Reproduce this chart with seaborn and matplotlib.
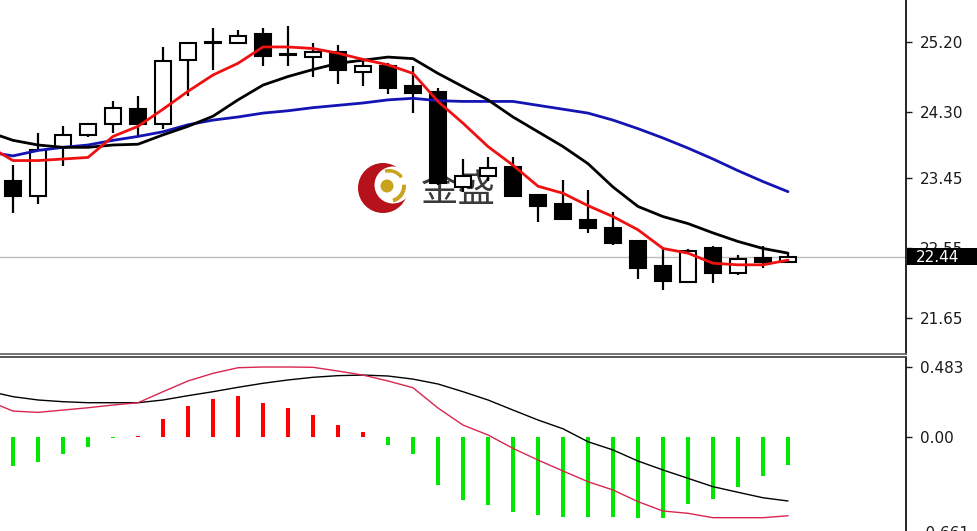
import numpy as np
import matplotlib
matplotlib.use("Agg")
import matplotlib.pyplot as plt
import seaborn as sns
from matplotlib.patches import Rectangle, Circle, Wedge

# ---------------- data ----------------
opens  = [23.42, 23.22, 23.85, 24.01, 24.15, 24.34, 24.15, 24.97, 25.19, 25.195, 25.31, 25.04,
          25.01, 25.07, 24.82, 24.90, 24.64, 24.56, 23.34, 23.48, 23.60, 23.24, 23.12, 22.92,
          22.81, 22.646, 22.325, 22.12, 22.55, 22.23, 22.43, 22.37]
highs  = [23.62, 24.03, 24.12, 24.16, 24.44, 24.51, 25.14, 25.21, 25.38, 25.36, 25.39, 25.41,
          25.195, 25.17, 24.98, 24.93, 24.90, 24.61, 23.70, 23.72, 23.72, 23.24, 23.43, 23.30,
          23.02, 22.66, 22.54, 22.54, 22.58, 22.47, 22.58, 22.49]
lows   = [23.00, 23.12, 23.61, 23.98, 24.03, 23.99, 24.08, 24.51, 24.84, 25.18, 24.90, 24.90,
          24.76, 24.67, 24.64, 24.54, 24.29, 23.37, 23.27, 23.42, 23.21, 22.89, 22.91, 22.745,
          22.595, 22.16, 22.02, 22.10, 22.10, 22.21, 22.295, 22.36]
closes = [23.23, 23.82, 24.01, 24.15, 24.35, 24.15, 24.96, 25.19, 25.21, 25.28, 25.02, 25.04,
          25.08, 24.84, 24.90, 24.61, 24.55, 23.39, 23.48, 23.58, 23.22, 23.10, 22.925, 22.81,
          22.62, 22.30, 22.13, 22.52, 22.23, 22.41, 22.38, 22.44]

# moving averages, first value belongs to the bar just left of the view
ma_fast = [23.87, 23.68, 23.68, 23.70, 23.72, 23.99, 24.12, 24.34, 24.57, 24.78, 24.93, 25.14,
           25.14, 25.12, 25.06, 24.98, 24.91, 24.80, 24.44, 24.16, 23.86, 23.62, 23.35, 23.26,
           23.10, 22.96, 22.79, 22.55, 22.49, 22.36, 22.34, 22.34, 22.40]
ma_mid  = [24.05, 23.94, 23.88, 23.85, 23.85, 23.88, 23.89, 24.01, 24.12, 24.25, 24.46, 24.65,
           24.76, 24.85, 24.93, 24.97, 25.01, 24.99, 24.80, 24.63, 24.46, 24.24, 24.05, 23.86,
           23.64, 23.34, 23.09, 22.96, 22.87, 22.75, 22.64, 22.55, 22.49]
ma_slow = [23.79, 23.74, 23.81, 23.85, 23.88, 23.94, 23.99, 24.05, 24.14, 24.20, 24.24, 24.29,
           24.32, 24.36, 24.39, 24.42, 24.46, 24.48, 24.45, 24.44, 24.44, 24.44, 24.39, 24.34,
           24.29, 24.20, 24.09, 23.97, 23.84, 23.70, 23.55, 23.41, 23.28]

macd_hist = [-0.201, -0.178, -0.120, -0.069, -0.006, 0.006, 0.123, 0.215, 0.260, 0.280, 0.236,
             0.197, 0.151, 0.081, 0.031, -0.058, -0.120, -0.335, -0.440, -0.474, -0.520, -0.544,
             -0.560, -0.560, -0.555, -0.567, -0.567, -0.470, -0.433, -0.347, -0.273, -0.195]
macd_line_black = [0.317, 0.278, 0.255, 0.243, 0.236, 0.236, 0.236, 0.255, 0.285, 0.3125, 0.343,
                   0.371, 0.394, 0.4125, 0.424, 0.428, 0.4215, 0.400, 0.366, 0.3125, 0.255, 0.185,
                   0.116, 0.055, -0.035, -0.092, -0.169, -0.231, -0.289, -0.347, -0.386, -0.424,
                   -0.4465]
macd_line_red = [0.249, 0.178, 0.169, 0.185, 0.201, 0.220, 0.236, 0.3125, 0.387, 0.440, 0.479,
                 0.484, 0.484, 0.482, 0.456, 0.428, 0.387, 0.340, 0.199, 0.081, 0.012, -0.081,
                 -0.162, -0.238, -0.3125, -0.370, -0.451, -0.516, -0.532, -0.5625, -0.5625,
                 -0.5625, -0.549]

price_ticks = [25.20, 24.30, 23.45, 22.55, 21.65]
price_tick_labels = ["25.20", "24.30", "23.45", "22.55", "21.65"]
macd_ticks = [0.483, 0.00, -0.661]
macd_tick_labels = ["0.483", "0.00", "-0.661"]
last_price = 22.44
last_price_label = "22.44"
watermark_text = "金盛"

# ---------------- figure ----------------
sns.set_theme(style="white")
plt.rcParams['font.family'] = ['DejaVu Sans', 'Noto Sans CJK SC']

W, H = 977, 531
fig = plt.figure(figsize=(W / 100, H / 100), dpi=100)
fig.patch.set_facecolor("white")
AXR = 906
ax1 = fig.add_axes([0, 1 - 354 / H, AXR / W, 354 / H])
ax2 = fig.add_axes([0, (H - 545) / H, AXR / W, (545 - 357) / H])

n = len(opens)
x = np.arange(n)
xl = np.arange(-1, n)
o = np.array(opens); c = np.array(closes)
hi = np.array(highs); lo = np.array(lows)
bull = c >= o

# candles
ax1.vlines(x, lo, hi, color="black", lw=1.6, zorder=2)
bottoms = np.minimum(o, c)
heights = np.maximum(np.abs(c - o), 0.012)
ax1.bar(x, heights, bottom=bottoms, width=0.66,
        color=np.where(bull, "white", "black"), edgecolor="black", linewidth=1.5, zorder=3)

# current price line
ax1.axhline(last_price, color="#bdbdbd", lw=1, zorder=1)

# moving averages
sns.lineplot(x=xl, y=ma_slow, ax=ax1, color="#1414b4", lw=2, legend=False, zorder=5)
sns.lineplot(x=xl, y=ma_mid, ax=ax1, color="black", lw=2, legend=False, zorder=5)
sns.lineplot(x=xl, y=ma_fast, ax=ax1, color="#f01010", lw=2, legend=False, zorder=6)

# watermark logo + text (pixel positions via inches transform)
T = fig.dpi_scale_trans
def P(px, py):
    return (px / 100, (H - py) / 100)
ax1.add_patch(Circle(P(383, 188), 0.25, transform=T, fc="#b5121b", ec="none", zorder=0.5))
ax1.add_patch(Circle(P(393, 185), 0.185, transform=T, fc="white", ec="none", zorder=0.6))
ax1.add_patch(Circle(P(387, 186), 0.065, transform=T, fc="#c9a21e", ec="none", zorder=0.7))
ax1.add_patch(Wedge(P(389, 186), 0.17, 35, 105, width=0.035, transform=T, fc="#c9a21e",
                    ec="none", zorder=0.7))
ax1.add_patch(Wedge(P(389, 186), 0.17, -75, 5, width=0.04, transform=T, fc="#c9a21e",
                    ec="none", zorder=0.7))
ax1.text(*P(458, 190), watermark_text, transform=T, fontsize=27, color="#3a3a3a",
         family=["Noto Sans CJK SC", "DejaVu Sans"], ha="center", va="center", zorder=0.8)

ax1.set_xlim(-0.52, 35.72)
ax1.set_ylim(21.1936, 25.7437)

# MACD
bar_colors = ["#ff0000" if v > 0 else "#00e600" for v in macd_hist]
ax2.bar(x, macd_hist, width=0.19, color=bar_colors, linewidth=0, zorder=2)
sns.lineplot(x=xl, y=macd_line_black, ax=ax2, color="black", lw=1, legend=False, zorder=3)
sns.lineplot(x=xl, y=macd_line_red, ax=ax2, color="#d8264f", lw=1, legend=False, zorder=3)
ax2.set_xlim(-0.52, 35.72)
ax2.set_ylim(-0.7521, 0.5535)

# axes styling
for ax in (ax1, ax2):
    ax.set_facecolor("white")
    ax.set_xticks([])
    ax.set_xlabel(""); ax.set_ylabel("")
    ax.yaxis.tick_right()
    ax.spines["left"].set_visible(False)
    ax.spines["right"].set_color("black")
    ax.spines["right"].set_linewidth(1.2)
    ax.tick_params(axis="y", which="both", right=True, left=False, direction="out", length=4,
                   width=1, pad=6, labelsize=11, colors="#1a1a1a")

ax1.spines["top"].set_visible(False)
ax1.spines["bottom"].set_color("#6a6a6a")
ax1.spines["bottom"].set_linewidth(1.3)
ax2.spines["bottom"].set_visible(False)
ax2.spines["top"].set_color("#4a4a4a")
ax2.spines["top"].set_linewidth(1.3)

ax1.set_yticks(price_ticks)
ax1.set_yticklabels(price_tick_labels)
ax2.set_yticks(macd_ticks)
ax2.set_yticklabels(macd_tick_labels)

# last price tag on the right axis
fig.add_artist(Rectangle(P(907, 265), 0.70, 0.17, transform=T, fc="black", ec="none", zorder=10))
fig.text(*P(916, 257), last_price_label, transform=T, color="white", fontsize=11,
         ha="left", va="center", zorder=11)

fig.savefig("out.png", dpi=100, facecolor="white")
